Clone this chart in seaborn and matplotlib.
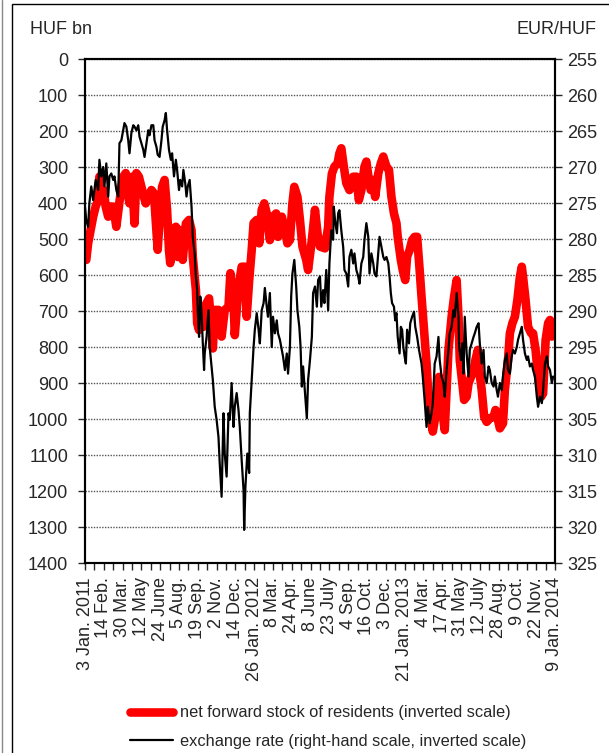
import matplotlib
matplotlib.use("Agg")
import matplotlib.pyplot as plt
import matplotlib.patches as mpatches
import seaborn as sns
import pandas as pd

# trading-day number since 3 Jan 2011 (x axis is one category per trading day)
red_t = [2, 5, 8, 13, 17, 21, 23, 26, 30, 33, 37, 40, 45, 50, 54, 58, 61, 65, 69, 71,
         75, 79, 82, 86, 90, 94, 97, 101, 106, 110, 114, 116, 120, 123, 127, 131, 134, 136, 140, 145,
         148, 152, 156, 161, 166, 170, 172, 177, 179, 182, 186, 189, 191, 198, 204, 207, 213, 218, 223, 229,
         232, 237, 239, 245, 250, 255, 258, 262, 266, 269, 274, 278, 282, 286, 290, 295, 300, 305, 308, 314,
         318, 323, 327, 331, 334, 339, 343, 347, 353, 356, 362, 367, 371, 375, 383, 388, 390, 394, 398, 403,
         406, 409, 413, 417, 422, 428, 433, 437, 441, 446, 449, 453, 456, 460, 463, 468, 472, 476, 481, 485,
         489, 493, 497, 499, 504, 507, 511, 514, 518, 522, 526, 530, 534, 537, 541, 545, 548, 553, 555, 559,
         563, 565, 570, 574, 580, 585, 589, 593, 596, 598, 601, 605, 609, 612, 616, 620, 623, 627, 629, 633,
         637, 641, 646, 652, 655, 659, 662, 667, 670, 675, 678, 682, 686, 690, 694, 697, 699, 703, 707, 712,
         715, 719, 723, 728, 731, 735, 739, 742, 745, 747, 750]
red_val = [558, 512, 484, 438, 410, 392, 327, 383, 364, 410, 438, 410, 410, 466, 410, 355, 327, 317, 383, 401,
           327, 457, 317, 327, 355, 383, 401, 383, 364, 373, 475, 530, 420, 355, 336, 420, 530, 567, 475, 466,
           550, 475, 558, 457, 447, 475, 550, 642, 734, 753, 689, 744, 688, 665, 804, 697, 697, 771, 697, 688,
           595, 669, 767, 633, 577, 577, 716, 614, 531, 456, 447, 512, 419, 401, 429, 503, 438, 429, 494, 438,
           466, 512, 503, 401, 355, 383, 447, 521, 558, 586, 503, 419, 484, 521, 526, 466, 383, 318, 299, 290,
           262, 248, 299, 345, 364, 327, 327, 392, 364, 299, 285, 336, 364, 336, 383, 318, 290, 271, 299, 308,
           383, 429, 456, 494, 558, 586, 614, 549, 531, 503, 494, 494, 586, 660, 753, 845, 938, 1012, 1035, 994,
           901, 883, 975, 1031, 808, 716, 660, 614, 716, 836, 883, 947, 938, 901, 883, 864, 836, 808, 864, 919,
           994, 1008, 998, 994, 975, 1003, 1026, 1012, 919, 836, 762, 734, 716, 669, 605, 577, 605, 669, 744, 762,
           762, 808, 883, 938, 929, 781, 734, 725, 771, 753, 762]

fx_t = [0, 2, 5, 7, 10, 13, 17, 21, 23, 26, 29, 31, 34, 37, 39, 42, 45, 47, 50, 53,
        55, 58, 61, 63, 66, 69, 71, 74, 77, 79, 82, 85, 87, 90, 93, 95, 98, 101, 103, 106,
        109, 111, 114, 116, 119, 122, 124, 127, 129, 131, 134, 137, 139, 142, 145, 147, 150, 152, 155, 157,
        160, 162, 164, 167, 170, 172, 175, 177, 179, 180, 182, 184, 186, 188, 190, 191, 194, 197, 199, 204,
        207, 210, 213, 215, 218, 221, 223, 226, 229, 231, 234, 237, 239, 242, 245, 247, 250, 253, 254, 256,
        259, 262, 263, 266, 269, 271, 274, 277, 279, 282, 285, 287, 290, 292, 295, 298, 300, 303, 306, 308,
        311, 314, 316, 319, 322, 324, 327, 329, 331, 334, 337, 339, 342, 344, 346, 348, 351, 354, 356, 359,
        362, 364, 367, 370, 372, 375, 377, 380, 382, 385, 388, 390, 393, 396, 397, 399, 402, 404, 406, 409,
        412, 414, 417, 420, 422, 425, 428, 430, 433, 436, 438, 441, 444, 446, 449, 452, 454, 457, 460, 462,
        465, 468, 470, 473, 476, 478, 481, 484, 486, 488, 490, 493, 495, 497, 499, 502, 504, 506, 508, 510,
        512, 514, 517, 519, 522, 525, 527, 530, 533, 537, 539, 542, 545, 547, 550, 553, 555, 558, 561, 564,
        566, 569, 572, 574, 577, 580, 582, 585, 588, 590, 593, 596, 597, 600, 602, 604, 606, 609, 612, 614,
        617, 620, 622, 625, 628, 630, 633, 636, 638, 641, 644, 646, 649, 652, 654, 657, 659, 662, 665, 667,
        670, 673, 675, 678, 681, 683, 686, 689, 691, 694, 697, 699, 702, 705, 707, 710, 713, 715, 718, 721,
        723, 726, 729, 731, 734, 737, 739, 742, 745, 747]
fx_val = [275.5, 277.4, 278.3, 275.0, 272.7, 274.6, 271.8, 273.2, 269.0, 271.3, 270.0, 272.7, 269.5, 274.1, 271.3, 270.9, 271.8, 271.3, 273.2, 274.1,
          266.7, 266.3, 264.9, 263.9, 264.4, 266.3, 268.1, 265.3, 264.2, 264.4, 264.9, 264.2, 265.8, 266.7, 267.6, 268.6, 266.7, 264.9, 265.6, 264.2,
          264.2, 266.3, 267.2, 268.3, 268.6, 266.3, 264.4, 263.5, 262.5, 264.9, 267.6, 269.0, 268.1, 271.3, 269.0, 270.4, 273.2, 271.8, 272.7, 270.4,
          272.3, 274.1, 272.7, 271.8, 275.5, 279.7, 282.0, 285.2, 287.1, 289.9, 293.6, 288.0, 290.3, 294.5, 298.2, 295.9, 293.6, 289.9, 295.0, 299.6,
          303.3, 305.1, 307.5, 311.2, 315.8, 304.2, 309.8, 313.0, 304.2, 305.1, 300.0, 306.1, 303.3, 301.4, 303.8, 306.1, 310.7, 314.9, 320.4, 314.4,
          309.8, 312.5, 304.2, 299.6, 295.0, 292.6, 290.3, 292.6, 294.5, 289.9, 288.9, 286.8, 289.4, 290.8, 287.5, 295.0, 290.8, 293.1, 291.3, 293.1,
          294.0, 295.4, 296.3, 298.2, 295.9, 298.7, 295.0, 288.0, 284.8, 282.9, 286.6, 289.9, 292.2, 295.0, 300.5, 297.7, 301.4, 304.9, 299.6, 296.8,
          293.6, 287.5, 286.6, 289.4, 285.7, 285.2, 289.4, 287.1, 288.9, 284.3, 289.9, 283.4, 278.8, 280.1, 275.5, 277.4, 279.2, 276.4, 276.0, 278.8,
          281.1, 284.3, 284.8, 286.6, 282.5, 281.5, 283.4, 282.0, 284.3, 285.2, 286.2, 283.4, 282.5, 280.1, 277.8, 279.7, 284.8, 282.0, 283.4, 284.8,
          285.2, 282.0, 279.7, 281.1, 282.5, 282.9, 282.5, 283.4, 285.2, 287.5, 288.9, 289.4, 291.3, 290.3, 293.6, 295.9, 292.2, 292.6, 295.0, 296.3,
          297.3, 292.6, 294.5, 291.7, 290.8, 290.1, 292.2, 293.6, 295.4, 297.3, 299.1, 302.4, 306.1, 303.3, 305.6, 304.2, 302.8, 297.3, 296.3, 293.6,
          296.8, 299.1, 300.0, 301.9, 298.2, 295.4, 293.1, 292.2, 289.9, 290.8, 287.5, 290.8, 295.0, 296.8, 294.5, 298.7, 290.8, 295.9, 299.1, 295.4,
          294.5, 293.6, 293.1, 292.2, 291.7, 294.5, 297.3, 295.4, 299.1, 300.0, 297.7, 298.2, 300.0, 300.5, 299.1, 301.0, 301.9, 300.0, 301.0, 299.1,
          296.8, 295.9, 298.2, 298.7, 296.3, 295.4, 295.9, 295.0, 294.0, 293.1, 292.2, 294.0, 295.9, 296.8, 296.3, 297.7, 297.3, 298.2, 299.1, 301.9,
          303.3, 301.9, 302.8, 301.0, 297.3, 296.3, 297.7, 298.2, 300.0, 299.1]

# one label every 30 trading days
tick_labels = ["3 Jan. 2011", "14 Feb.", "30 Mar.", "12 May", "24 June", "5 Aug.", "19 Sep.", "2 Nov.",
               "14 Dec.", "26 Jan. 2012", "8 Mar.", "24 Apr.", "8 June", "23 July", "4 Sep.", "16 Oct.",
               "3 Dec.", "21 Jan. 2013", "4 Mar.", "17 Apr.", "31 May", "12 July", "28 Aug.", "9 Oct.",
               "22 Nov.", "9 Jan. 2014"]

red_df = pd.DataFrame({"t": red_t, "v": red_val})
fx_df = pd.DataFrame({"t": fx_t, "v": fx_val})

sns.set_style("ticks")
plt.rcParams["font.family"] = ["Liberation Sans", "DejaVu Sans"]
FS = 13

fig = plt.figure(figsize=(6.09, 7.53), dpi=100)
ax = fig.add_axes([85 / 609, 1 - 563 / 753, 470 / 609, 504 / 753])
ax2 = ax.twinx()

sns.lineplot(data=red_df, x="t", y="v", ax=ax, color="#ff0000", lw=6.2, estimator=None,
             solid_joinstyle="round", solid_capstyle="round",
             label="net forward stock of residents (inverted scale)", legend=False)
sns.lineplot(data=fx_df, x="t", y="v", ax=ax2, color="black", lw=1.6, estimator=None,
             label="exchange rate (right-hand scale, inverted scale)", legend=False)

ax.set_xlim(0, 750)
ax.set_ylim(1400, 0)
ax2.set_ylim(325, 255)
ax.set_yticks(range(0, 1401, 100))
ax2.set_yticks(range(255, 326, 5))
major = list(range(0, 751, 30))
ax.set_xticks(major)
ax.set_xticklabels(tick_labels, rotation=90, ha="center", va="top")
ax.set_xticks(range(15, 750, 30), minor=True)
ax.set_xlabel("")
ax.set_ylabel("")
ax2.set_ylabel("")

ax.yaxis.grid(True, linestyle=(0, (1, 1)), color="#555555", lw=1)
ax.set_axisbelow(True)
ax.tick_params(axis="y", labelsize=FS, length=5, width=1, pad=7, direction="out")
ax.tick_params(axis="x", which="both", labelsize=FS, length=5, width=1, pad=5, direction="out")
ax2.tick_params(axis="y", labelsize=FS, length=5, width=1, pad=4, direction="out")
for a in (ax, ax2):
    for s in a.spines.values():
        s.set_linewidth(1.5)
        s.set_color("black")
        s.set_visible(True)

fig.text(30 / 609, 1 - 30 / 753, "HUF bn", fontsize=FS, ha="left", va="center")
fig.text(597 / 609, 1 - 30 / 753, "EUR/HUF", fontsize=FS, ha="right", va="center")

h1, l1 = ax.get_legend_handles_labels()
h2, l2 = ax2.get_legend_handles_labels()
fig.legend(h1 + h2, l1 + l2, loc="center left", bbox_to_anchor=(130 / 609, 1 - 727 / 753),
           frameon=False, fontsize=11.8, handlelength=2.6, handletextpad=0.45, labelspacing=0.8,
           borderpad=0, borderaxespad=0)

# page frame
fig.patches.append(mpatches.Rectangle((12 / 609, -0.1), 1.0, 1.1 - 4 / 753, transform=fig.transFigure,
                                      fill=False, edgecolor="black", lw=1))
fig.lines.append(plt.Line2D([2 / 609, 2 / 609], [0, 1], transform=fig.transFigure, color="#888888", lw=1))

fig.savefig("out.png", dpi=100)
